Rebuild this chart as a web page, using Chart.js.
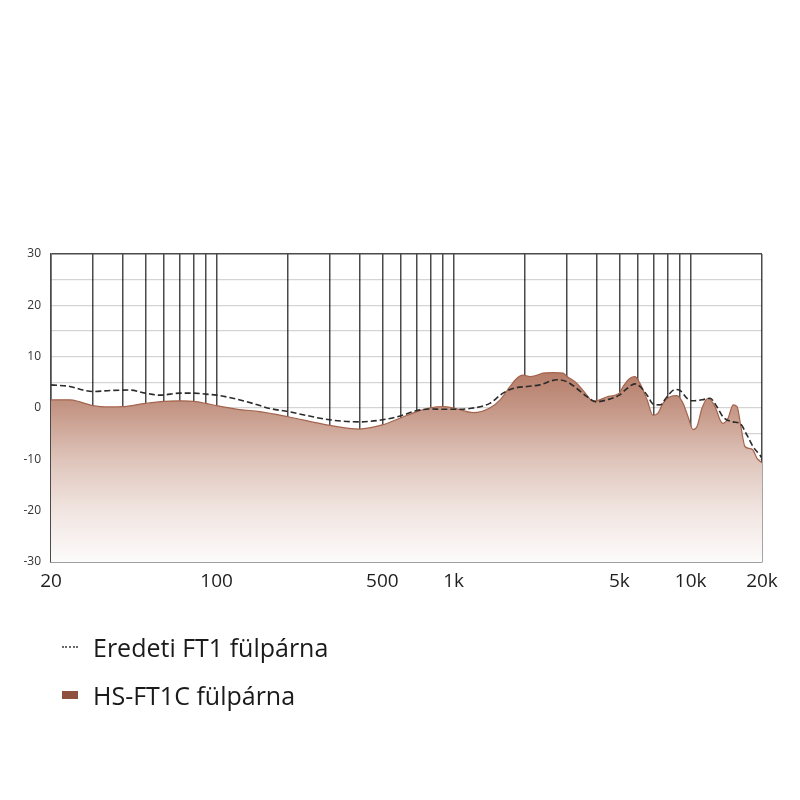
<!DOCTYPE html>
<html>
<head>
<meta charset="utf-8">
<script src="https://cdn.jsdelivr.net/npm/chart.js@4.4.1/dist/chart.umd.min.js"></script>
<style>
  html, body { margin: 0; padding: 0; background: #ffffff; }
  #wrap { position: relative; width: 800px; height: 800px; }
  #chart { position: absolute; left: 0; top: 0; }
  #legend { position: absolute; left: 62px; top: 628px; font-family: "Open Sans", "Noto Sans", sans-serif; font-size: 25px; color: #1a1a1a; }
  .item { display: flex; align-items: center; height: 38px; margin-bottom: 10px; }
  .mk { width: 16px; margin-right: 15px; }
  .mk.dot { height: 0; border-top: 2px dotted #6a6a6a; }
  .mk.box { height: 8px; background: #8f513c; }
</style>
</head>
<body>
<div id="wrap">
  <canvas id="chart" width="800" height="800"></canvas>
  <div id="legend"></div>
</div>
<script>
// ---- data (frequency in Hz, level in dB) ----
const seriesNames = ["Eredeti FT1 fülpárna", "HS-FT1C fülpárna"];

const origFreq = [20, 24, 27.3, 30, 35.5, 43, 50, 57.7, 70, 80, 90, 100, 117, 142, 168, 200, 300, 400, 500, 600, 700, 800, 900, 1000, 1170, 1420, 1615, 1780, 2040, 2310, 2730, 3010, 3310, 3650, 4000, 4440, 5000, 5390, 5820, 6110, 6550, 6930, 7430, 7950, 8590, 9020, 9750, 10230, 11170, 12070, 12910, 13680, 15100, 16150, 17290, 18320, 19620, 20000];
const origDb   = [4.5, 4.2, 3.5, 3.2, 3.4, 3.5, 2.9, 2.5, 2.9, 2.9, 2.7, 2.5, 1.9, 0.9, -0.1, -0.7, -2.3, -2.7, -2.3, -1.5, -0.5, -0.2, -0.25, -0.25, -0.1, 0.9, 2.9, 3.8, 4.2, 4.5, 5.5, 5.1, 3.8, 2.2, 1.2, 1.6, 2.5, 3.8, 4.7, 4.2, 2.5, 0.8, 0.6, 2.2, 3.6, 3.4, 1.7, 1.4, 1.6, 1.9, 0.25, -1.7, -2.7, -3.0, -5.3, -7.5, -9.2, -9.8];

const hsFreq = [20, 24, 26.5, 30, 35.5, 40, 50, 60, 70, 80, 90, 100, 125, 152, 200, 300, 400, 500, 600, 700, 800, 900, 1000, 1210, 1420, 1570, 1730, 1850, 1960, 2100, 2250, 2380, 2630, 2890, 3000, 3310, 3650, 3840, 4000, 4440, 5000, 5190, 5550, 5820, 6110, 6550, 6930, 7280, 7640, 8190, 8750, 9290, 9750, 10230, 10640, 11170, 11830, 12680, 13300, 13680, 14380, 15100, 15700, 16290, 16950, 17790, 18320, 19050, 20000];
const hsDb   = [1.6, 1.6, 1.2, 0.45, 0.2, 0.25, 0.9, 1.3, 1.4, 1.3, 0.9, 0.45, -0.3, -0.7, -1.7, -3.4, -4.1, -3.3, -1.9, -0.7, 0.05, 0.25, 0.0, -0.9, 0.0, 1.6, 4.2, 5.8, 6.4, 6.1, 6.4, 6.8, 6.9, 6.8, 6.2, 4.8, 2.5, 1.4, 1.4, 2.2, 2.9, 4.2, 5.8, 6.1, 4.8, 1.6, -1.4, -1.0, 0.9, 2.2, 2.4, 0.9, -1.7, -4.2, -3.6, 0.0, 1.9, 0.25, -2.3, -3.0, -2.0, 0.6, 0.25, -3.6, -7.5, -7.9, -8.2, -9.8, -10.7];

const xGridValues = [20, 30, 40, 50, 60, 70, 80, 90, 100, 200, 300, 400, 500, 600, 700, 800, 900, 1000, 2000, 3000, 4000, 5000, 6000, 7000, 8000, 9000, 10000, 20000];
const xLabelValues = [20, 100, 500, 1000, 5000, 10000, 20000];
const xLabelTexts  = ["20", "100", "500", "1k", "5k", "10k", "20k"];
const yLabelValues = [30, 20, 10, 0, -10, -20, -30];

const zip = (xs, ys) => xs.map((x, i) => ({ x: x, y: ys[i] }));

const darkLine = '#4a4a4a';
const lightLine = 'rgba(0,0,0,0.17)';

function fillGradient(context) {
  const chart = context.chart;
  const area = chart.chartArea;
  if (!area) return 'rgba(190,140,120,0.8)';
  const y = chart.scales.y;
  const top = y.getPixelForValue(8);
  const g = chart.ctx.createLinearGradient(0, top, 0, area.bottom);
  g.addColorStop(0, 'rgb(180,121,101)');
  g.addColorStop(0.21, 'rgb(196,150,133)');
  g.addColorStop(0.48, 'rgb(223,197,187)');
  g.addColorStop(0.74, 'rgb(241,229,225)');
  g.addColorStop(1, 'rgb(253,251,251)');
  return g;
}

const chart = new Chart(document.getElementById('chart'), {
  type: 'line',
  data: {
    datasets: [
      {
        label: seriesNames[0],
        data: zip(origFreq, origDb),
        borderColor: '#2b2b2b',
        borderWidth: 1.6,
        borderDash: [6, 3],
        pointRadius: 0,
        fill: false,
        cubicInterpolationMode: 'monotone'
      },
      {
        label: seriesNames[1],
        data: zip(hsFreq, hsDb),
        borderColor: '#a5644e',
        borderWidth: 1.2,
        backgroundColor: fillGradient,
        pointRadius: 0,
        fill: 'start',
        cubicInterpolationMode: 'monotone'
      }
    ]
  },
  options: {
    responsive: false,
    devicePixelRatio: 1,
    animation: false,
    layout: { padding: { top: 254, right: 38, bottom: 0, left: 0 } },
    plugins: { legend: { display: false }, tooltip: { enabled: false } },
    scales: {
      x: {
        type: 'logarithmic',
        min: 20,
        max: 20000,
        z: 1,
        afterBuildTicks: (scale) => { scale.ticks = xGridValues.map(v => ({ value: v })); },
        afterFit: (scale) => { scale.height = 238; },
        grid: {
          color: darkLine,
          lineWidth: 1.5,
          drawTicks: false
        },
        border: { display: true, color: darkLine, width: 1.5 },
        ticks: {
          autoSkip: false,
          maxRotation: 0,
          padding: 8,
          color: '#1e1e1e',
          font: { family: '"Open Sans", "Noto Sans", sans-serif', size: 19 },
          callback: (value) => {
            const i = xLabelValues.indexOf(value);
            return i >= 0 ? xLabelTexts[i] : '';
          }
        }
      },
      y: {
        min: -30,
        max: 30,
        z: 1,
        afterFit: (scale) => { scale.width = 51; },
        grid: {
          color: (ctx) => (ctx.tick && ctx.tick.value === 30 ? darkLine : lightLine),
          lineWidth: (ctx) => (ctx.tick && ctx.tick.value === 30 ? 1.5 : 1.2),
          drawTicks: false
        },
        border: { display: true, color: darkLine, width: 1.5 },
        ticks: {
          stepSize: 5,
          padding: 10,
          color: '#333333',
          font: { family: '"Open Sans", "Noto Sans", sans-serif', size: 12 },
          callback: (value) => (yLabelValues.indexOf(value) >= 0 ? String(value) : '')
        }
      }
    }
  }
});

// HTML legend built from the chart's datasets
const legendEl = document.getElementById('legend');
chart.data.datasets.forEach((ds, i) => {
  const row = document.createElement('div');
  row.className = 'item';
  const mk = document.createElement('span');
  mk.className = 'mk ' + (i === 0 ? 'dot' : 'box');
  const tx = document.createElement('span');
  tx.textContent = ds.label;
  row.appendChild(mk);
  row.appendChild(tx);
  legendEl.appendChild(row);
});
</script>
</body>
</html>
